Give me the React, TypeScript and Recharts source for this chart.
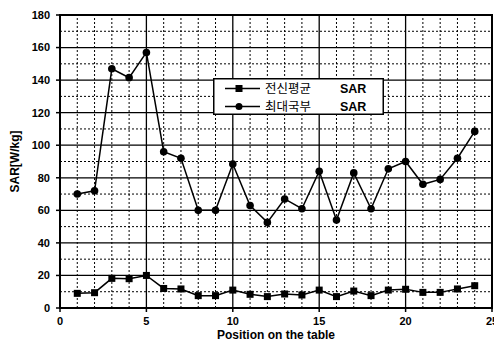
import React from 'react';
import {
  LineChart, Line, XAxis, YAxis, ReferenceLine, ReferenceArea, Legend,
} from 'recharts';

const positions = [1, 2, 3, 4, 5, 6, 7, 8, 9, 10, 11, 12, 13, 14, 15, 16, 17, 18, 19, 20, 21, 22, 23, 24];
const wholeBodySAR = [9, 9.4, 18.2, 18, 20, 12, 11.7, 7.6, 7.6, 11, 8.4, 7, 8.6, 8, 11, 7, 10.4, 7.6, 11, 11.5, 9.6, 9.6, 11.7, 13.7];
const peakLocalSAR = [70, 72, 147, 141.5, 157, 96, 92, 60, 60, 88.5, 63, 52.6, 67, 61, 84, 54, 83, 61, 85.5, 90, 76, 79, 92, 108.5];

const xTicks = [0, 5, 10, 15, 20, 25];
const yTicks = [0, 20, 40, 60, 80, 100, 120, 140, 160, 180];
const majorGridX = [5, 10, 15, 20];
const majorGridY = [20, 40, 60, 80, 100, 120, 140, 160];
const minorGridX = [1, 2, 3, 4, 6, 7, 8, 9, 11, 12, 13, 14, 16, 17, 18, 19, 21, 22, 23, 24];
const minorGridY = [10, 30, 50, 70, 90, 110, 130, 150, 170];

const seriesNames = ['전신평균', '최대국부'];

const data = positions.map((p, i) => ({ pos: p, whole: wholeBodySAR[i], peak: peakLocalSAR[i] }));

const tickStyle = { fontFamily: 'Liberation Sans, Arial, sans-serif', fontSize: 11, fontWeight: 700, fill: '#000' };

const SquareDot = (props: any) => {
  const { cx, cy, index } = props;
  if (cx == null || cy == null) return <g key={`s${index}`} />;
  return <rect key={`s${index}`} x={cx - 3.5} y={cy - 3.5} width={7} height={7} fill="#000" />;
};

const CircleDot = (props: any) => {
  const { cx, cy, index } = props;
  if (cx == null || cy == null) return <g key={`c${index}`} />;
  return <circle key={`c${index}`} cx={cx} cy={cy} r={3.8} fill="#000" />;
};

const korStyle = { fontFamily: 'Noto Sans CJK KR', fontSize: 12.5, fill: '#000' };
const sarStyle = { fontFamily: 'Liberation Sans, Arial, sans-serif', fontSize: 12.5, fontWeight: 700, fill: '#000' };

const LegendBox = () => (
  <svg width={171} height={37} style={{ display: 'block' }}>
    <rect x={0.75} y={0.75} width={169.5} height={35.5} fill="#fff" stroke="#000" strokeWidth={1.5} />
    <line x1={12} y1={10.5} x2={47} y2={10.5} stroke="#000" strokeWidth={1.5} />
    <rect x={22.5} y={7} width={7} height={7} fill="#000" />
    <text x={52} y={14.5} style={korStyle}>{seriesNames[0]}</text>
    <text x={127} y={14.5} style={sarStyle}>SAR</text>
    <line x1={12} y1={28.5} x2={47} y2={28.5} stroke="#000" strokeWidth={1.5} />
    <circle cx={26} cy={28.5} r={3.5} fill="#000" />
    <text x={52} y={33} style={korStyle}>{seriesNames[1]}</text>
    <text x={127} y={33} style={sarStyle}>SAR</text>
  </svg>
);

export default function App() {
  return (
    <div style={{ width: 494, height: 335, background: '#fff' }}>
      <LineChart width={494} height={335} data={data} margin={{ top: 7, right: 10, bottom: 0, left: 0 }}>
        {minorGridX.map((v) => (
          <ReferenceLine key={`mx${v}`} x={v} stroke="#000" strokeWidth={1} strokeDasharray="2 2" />
        ))}
        {minorGridY.map((v) => (
          <ReferenceLine key={`my${v}`} y={v} stroke="#000" strokeWidth={1} strokeDasharray="2 2" />
        ))}
        {majorGridX.map((v) => (
          <ReferenceLine key={`Mx${v}`} x={v} stroke="#000" strokeWidth={1.3} />
        ))}
        {majorGridY.map((v) => (
          <ReferenceLine key={`My${v}`} y={v} stroke="#000" strokeWidth={1.3} />
        ))}
        <ReferenceArea x1={0} x2={25} y1={0} y2={180} fill="none" stroke="#000" strokeWidth={2} />
        <XAxis
          dataKey="pos"
          type="number"
          domain={[0, 25]}
          ticks={xTicks}
          height={35}
          tick={tickStyle}
          tickSize={4}
          tickMargin={5}
          axisLine={{ stroke: '#000', strokeWidth: 2 }}
          tickLine={{ stroke: '#000', strokeWidth: 1.5 }}
          label={{ value: 'Position on the table', position: 'insideBottom', offset: 4, style: { fontFamily: 'Liberation Sans, Arial, sans-serif', fontSize: 12, fontWeight: 700, fill: '#000' } }}
        />
        <YAxis
          type="number"
          domain={[0, 180]}
          ticks={yTicks}
          width={52}
          tick={tickStyle}
          tickSize={4}
          tickMargin={6}
          axisLine={{ stroke: '#000', strokeWidth: 2 }}
          tickLine={{ stroke: '#000', strokeWidth: 1.5 }}
          label={{ value: 'SAR[W/kg]', angle: -90, position: 'center', dx: -19, style: { fontFamily: 'Liberation Sans, Arial, sans-serif', fontSize: 12, fontWeight: 700, fill: '#000', textAnchor: 'middle' } }}
        />
        <Legend
          layout="vertical"
          align="center"
          verticalAlign="middle"
          content={() => <LegendBox />}
          wrapperStyle={{ position: 'absolute', left: 205, top: 70, width: 171, height: 37 }}
        />
        <Line dataKey="whole" name={seriesNames[0]} stroke="#000" strokeWidth={1.5} dot={SquareDot} isAnimationActive={false} />
        <Line dataKey="peak" name={seriesNames[1]} stroke="#000" strokeWidth={1.5} dot={CircleDot} isAnimationActive={false} />
      </LineChart>
    </div>
  );
}
